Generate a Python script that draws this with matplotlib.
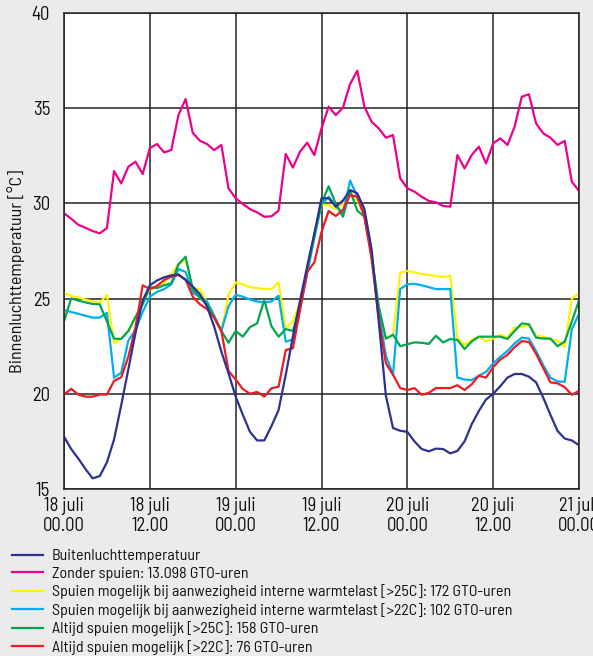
import numpy as np
import matplotlib
matplotlib.use("Agg")
import matplotlib.pyplot as plt

plt.rcParams['font.family'] = ['Barlow Semi Condensed', 'Roboto Condensed', 'DejaVu Sans']

# hourly values, 18 juli 00.00 .. 21 juli 00.00
hours = np.arange(0, 73)

buiten = [17.75, 17.1, 16.6, 16.05, 15.56, 15.68, 16.4, 17.6, 19.4, 21.3,
          23.2, 24.9, 25.7, 25.95, 26.12, 26.22, 26.27, 25.98, 25.63, 25.24,
          24.58, 23.52, 22.21, 21.08, 19.85, 18.9, 18.0, 17.55, 17.55, 18.3,
          19.15, 21.0, 23.0, 24.9, 26.7, 28.4, 30.27, 30.27, 29.83, 30.15,
          30.7, 30.53, 29.7, 27.6, 23.8, 19.9, 18.2, 18.06, 18.0, 17.5,
          17.1, 16.98, 17.12, 17.1, 16.87, 17.0, 17.5, 18.4, 19.1, 19.7,
          20.0, 20.4, 20.85, 21.04, 21.04, 20.9, 20.6, 19.8, 18.9, 18.05,
          17.65, 17.55, 17.3]

zonder = [29.48, 29.2, 28.88, 28.72, 28.55, 28.43, 28.7, 31.7, 31.05, 31.93,
          32.19, 31.54, 32.9, 33.12, 32.68, 32.8, 34.64, 35.48, 33.71, 33.29,
          33.12, 32.8, 33.07, 30.79, 30.27, 29.97, 29.7, 29.53, 29.3, 29.32,
          29.62, 32.6, 31.88, 32.72, 33.19, 32.54, 33.94, 35.08, 34.64, 35.03,
          36.27, 36.97, 35.08, 34.29, 33.94, 33.45, 33.59, 31.32, 30.79, 30.62,
          30.35, 30.13, 30.06, 29.86, 29.83, 32.54, 31.84, 32.54, 32.98, 32.1,
          33.15, 33.42, 33.07, 34.03, 35.6, 35.73, 34.2, 33.68, 33.45, 33.07,
          33.28, 31.14, 30.65]

intern_25 = [25.28, 25.15, 25.05, 24.95, 24.85, 24.78, 25.19, 22.65, 22.9, 23.3,
             24.0, 24.8, 25.5, 25.6, 25.85, 26.3, 26.8, 27.05, 25.55, 25.5,
             24.8, 24.1, 23.3, 25.2, 25.85, 25.75, 25.6, 25.55, 25.5, 25.5,
             25.85, 23.44, 23.8, 24.8, 26.5, 28.4, 29.92, 29.92, 29.69, 29.97,
             30.45, 30.15, 29.4, 27.2, 24.5, 22.9, 23.1, 26.36, 26.45, 26.38,
             26.3, 26.24, 26.19, 26.13, 26.2, 22.95, 22.55, 22.85, 23.0, 22.75,
             22.9, 23.1, 22.95, 23.5, 23.5, 23.65, 23.05, 23.0, 22.85, 22.8,
             22.45, 25.0, 25.28]

intern_22 = [24.4, 24.3, 24.2, 24.1, 24.0, 24.0, 24.25, 20.85, 21.1, 22.8,
             23.35, 24.3, 25.1, 25.35, 25.5, 25.75, 26.55, 26.4, 25.3, 25.1,
             24.85, 24.1, 23.3, 24.6, 25.2, 25.1, 24.95, 24.85, 24.8, 24.85,
             25.15, 22.74, 22.85, 24.5, 26.3, 28.2, 29.95, 30.35, 29.85, 29.5,
             31.2, 30.35, 29.4, 27.3, 24.3, 22.0, 21.0, 25.5, 25.75, 25.78,
             25.7, 25.6, 25.5, 25.5, 25.5, 20.85, 20.75, 20.72, 20.95, 21.15,
             21.6, 21.95, 22.25, 22.65, 22.95, 22.9, 22.25, 21.5, 20.85, 20.65,
             20.63, 23.4, 24.2]

altijd_25 = [23.79, 25.01, 24.9, 24.8, 24.72, 24.7, 23.8, 22.9, 22.88, 23.3,
             24.05, 24.7, 25.6, 25.55, 25.7, 25.8, 26.8, 27.2, 25.5, 25.05,
             24.7, 24.0, 23.3, 22.68, 23.3, 23.0, 23.5, 23.7, 24.93, 23.55,
             23.0, 23.4, 23.3, 24.6, 26.5, 28.4, 30.0, 30.9, 29.97, 29.3,
             30.67, 29.62, 29.3, 27.3, 24.6, 22.9, 23.1, 22.5, 22.6, 22.7,
             22.68, 22.62, 23.05, 22.7, 22.88, 22.83, 22.35, 22.75, 23.0, 23.0,
             23.0, 23.0, 22.88, 23.3, 23.7, 23.65, 22.95, 22.9, 22.9, 22.5,
             22.74, 23.8, 24.9]

altijd_22 = [19.96, 20.26, 19.96, 19.85, 19.85, 19.96, 19.96, 20.68, 20.87, 21.95,
             23.5, 25.7, 25.5, 25.66, 25.98, 26.15, 26.24, 26.0, 25.1, 24.7,
             24.45, 24.0, 23.3, 21.2, 20.75, 20.25, 20.0, 20.1, 19.85, 20.29,
             20.37, 22.3, 22.39, 24.4, 26.4, 26.9, 28.5, 29.6, 29.34, 29.66,
             30.44, 30.35, 29.3, 27.1, 24.0, 21.6, 21.0, 20.3, 20.2, 20.3,
             19.95, 20.05, 20.3, 20.3, 20.3, 20.45, 20.2, 20.5, 20.95, 20.85,
             21.4, 21.8, 22.05, 22.45, 22.77, 22.72, 22.1, 21.35, 20.6, 20.55,
             20.35, 19.95, 20.15]

x_ticklabels = ["18 juli\n00.00", "18 juli\n12.00", "19 juli\n00.00", "19 juli\n12.00",
                "20 juli\n00.00", "20 juli\n12.00", "21 juli\n00.00"]

labels = ["Buitenluchttemperatuur",
          "Zonder spuien: 13.098 GTO-uren",
          "Spuien mogelijk bij aanwezigheid interne warmtelast [>25C]: 172 GTO-uren",
          "Spuien mogelijk bij aanwezigheid interne warmtelast [>22C]: 102 GTO-uren",
          "Altijd spuien mogelijk [>25C]: 158 GTO-uren",
          "Altijd spuien mogelijk [>22C]: 76 GTO-uren"]

fig = plt.figure(figsize=(5.93, 6.56), dpi=100, facecolor='#ebebeb')
ax = fig.add_axes([64 / 593, 1 - 489 / 656, 515 / 593, 476 / 656])
ax.set_facecolor('white')

lw = 1.6
l_zonder, = ax.plot(hours, zonder, color='#ec008c', lw=lw)
l_i25, = ax.plot(hours, intern_25, color='#fff200', lw=lw)
l_i22, = ax.plot(hours, intern_22, color='#00aeef', lw=lw)
l_a25, = ax.plot(hours, altijd_25, color='#00a651', lw=lw)
l_a22, = ax.plot(hours, altijd_22, color='#ed1c24', lw=lw)
l_buiten, = ax.plot(hours, buiten, color='#2e3192', lw=lw)

ax.set_xlim(0, 72)
ax.set_ylim(15, 40)
ax.set_xticks(range(0, 73, 12))
ax.set_yticks(range(15, 41, 5))
ax.grid(color='#222222', lw=1.1)
ax.set_axisbelow(True)
ax.tick_params(length=0, labelsize=13.5, labelcolor='#111111')
ax.tick_params(axis='y', pad=10)
ax.tick_params(axis='x', pad=6)
ax.set_xticklabels(x_ticklabels, linespacing=1.15)
for s in ax.spines.values():
    s.set_color('#222222')
    s.set_linewidth(1.1)
ax.set_ylabel("Binnenluchttemperatuur [°C]", fontsize=13, color='#111111')
ax.yaxis.set_label_coords(-0.076, 0.458)

# legend below the plot, one entry per row
fig.legend([l_buiten, l_zonder, l_i25, l_i22, l_a25, l_a22], labels,
           loc='upper left', bbox_to_anchor=(12 / 593, 1 - 549 / 656),
           frameon=False, fontsize=11.5, handlelength=1.95, handletextpad=0.55,
           labelspacing=0.22, borderaxespad=0, borderpad=0, labelcolor='#111111')

fig.savefig("out.png", dpi=100, facecolor=fig.get_facecolor())
